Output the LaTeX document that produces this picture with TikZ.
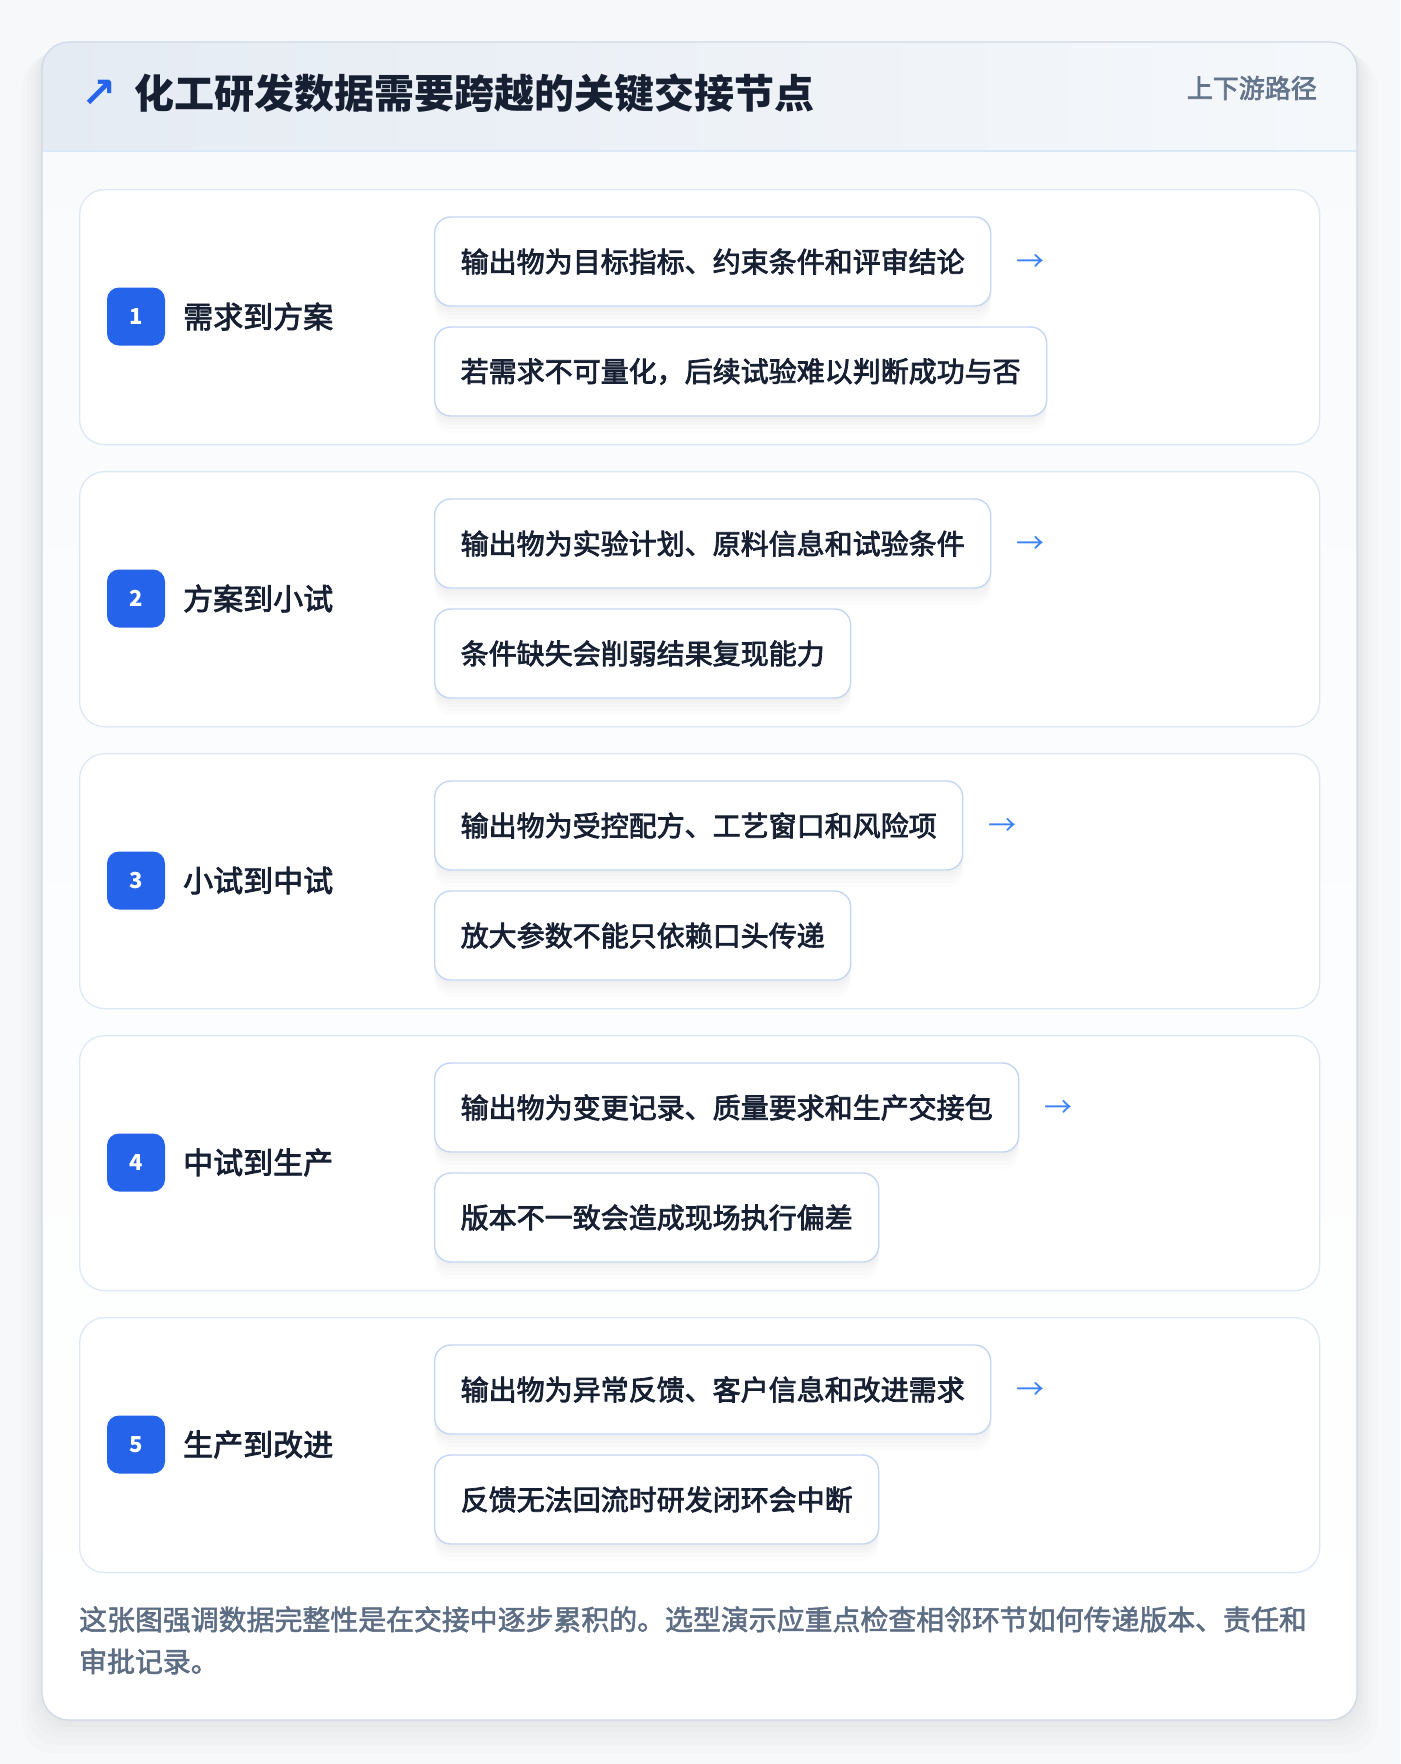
\documentclass[tikz,border=0pt]{standalone}
\usepackage{fontspec}
\setmainfont{Noto Sans CJK SC}
\newfontfamily\cjkmed[FakeBold=2.6]{Noto Sans CJK SC}
\newfontfamily\cjkfoot[FakeBold=2.0]{Noto Sans CJK SC}
\newfontfamily\symf{DejaVu Sans}
\usetikzlibrary{shadows,calc}
\definecolor{pagebg}{HTML}{F7F8FA}
\definecolor{cardfill}{HTML}{F8FAFC}
\definecolor{cardborder}{HTML}{CFD9E6}
\definecolor{hdrL}{HTML}{E5EBF3}
\definecolor{hdrR}{HTML}{F5F8FB}
\definecolor{hdrline}{HTML}{DBE8F8}
\definecolor{rowborder}{HTML}{DDE8F6}
\definecolor{boxborder}{HTML}{C3D7F3}
\definecolor{badgeblue}{HTML}{2563EB}
\definecolor{arrowblue}{HTML}{3B82F6}
\definecolor{maintext}{HTML}{172033}
\definecolor{subtext}{HTML}{64748B}
\definecolor{foottext}{HTML}{5D6D84}
\tikzset{
  rowcard/.style={draw=rowborder, line width=1.3pt, fill=white, rounded corners=25pt,
    minimum width=1240pt, minimum height=255pt, anchor=north west, inner sep=0pt},
  badge/.style={fill=badgeblue, rounded corners=12pt, minimum width=58pt, minimum height=58pt,
    inner sep=0pt, text=white, font=\fontsize{22}{26}\selectfont\bfseries},
  steplabel/.style={anchor=west, inner sep=0pt, text=maintext, font=\fontsize{30}{34}\selectfont\cjkmed},
  softshadow/.style={
    general shadow={fill=black, opacity=0.012, shadow yshift=-3pt},
    general shadow={fill=black, opacity=0.012, shadow yshift=-6pt},
    general shadow={fill=black, opacity=0.012, shadow yshift=-9pt},
    general shadow={fill=black, opacity=0.012, shadow yshift=-13pt},
    general shadow={fill=black, opacity=0.010, shadow yshift=-17pt}},
  infobox/.style={draw=boxborder, line width=1.4pt, fill=white, rounded corners=16pt,
    minimum height=89pt, inner xsep=26pt, inner ysep=0pt, anchor=west, text=maintext,
    font=\fontsize{28}{32}\selectfont\cjkmed, softshadow},
  flowarrow/.style={anchor=west, inner sep=0pt, text=arrowblue, font=\fontsize{28}{32}\selectfont},
}
\begin{document}
\begin{tikzpicture}[x=1pt,y=-1pt]
\useasboundingbox (0,0) rectangle (1400,1764);
\fill[pagebg] (0,0) rectangle (1400,1764);
% soft shadow of the outer card
\foreach \d in {3,7,12,18,25,33}{
  \fill[black, opacity=0.010, rounded corners=30pt] (42-\d*0.6,42+\d*0.4) rectangle (1357+\d*0.6,1720+\d);
}
% outer card
\shade[top color=cardfill, bottom color=white, rounded corners=27pt] (42,42) rectangle (1357,1720);
\begin{scope}
  \clip[rounded corners=27pt] (42,42) rectangle (1357,1720);
  \shade[left color=hdrL, right color=hdrR] (42,42) rectangle (1357,151);
\end{scope}
\draw[hdrline, line width=1.5pt] (42.6,151) -- (1356.4,151);
\draw[cardborder, line width=1.2pt, rounded corners=27pt] (42,42) rectangle (1357,1720);
% header
\node[anchor=center, inner sep=0pt, text=badgeblue, font=\fontsize{42}{46}\selectfont\symf\bfseries] (harrow) at (99,94) {↗};
\node[anchor=west, inner sep=0pt, text=maintext, font=\fontsize{40}{44}\selectfont\bfseries] (title) at (134,93) {化工研发数据需要跨越的关键交接节点};
\node[anchor=east, inner sep=0pt, text=subtext, font=\fontsize{26}{30}\selectfont\cjkmed] (tag) at (1317,88) {上下游路径};
% rows
\foreach \i/\lab/\a/\b in {
  1/需求到方案/输出物为目标指标、约束条件和评审结论/若需求不可量化，后续试验难以判断成功与否,
  2/方案到小试/输出物为实验计划、原料信息和试验条件/条件缺失会削弱结果复现能力,
  3/小试到中试/输出物为受控配方、工艺窗口和风险项/放大参数不能只依赖口头传递,
  4/中试到生产/输出物为变更记录、质量要求和生产交接包/版本不一致会造成现场执行偏差,
  5/生产到改进/输出物为异常反馈、客户信息和改进需求/反馈无法回流时研发闭环会中断}{
  \pgfmathsetmacro{\top}{189+282*(\i-1)}
  \node[rowcard] (row\i) at (79,\top) {};
  \node[badge] (badge\i) at (136,\top+127.5) {\i};
  \node[steplabel] (label\i) at (183,\top+127.5) {\lab};
  \node[infobox] (out\i) at (434,\top+72.5) {\a};
  \node[infobox] (risk\i) at (434,\top+182.5) {\b};
  \node[flowarrow] (arr\i) at ($(out\i.east)+(25,1)$) {→};
}
% footer
\node[anchor=base west, inner sep=0pt, text=foottext, font=\fontsize{27.9}{32}\selectfont\cjkfoot] (foot1) at (79,1630) {这张图强调数据完整性是在交接中逐步累积的。选型演示应重点检查相邻环节如何传递版本、责任和};
\node[anchor=base west, inner sep=0pt, text=foottext, font=\fontsize{27.9}{32}\selectfont\cjkfoot] (foot2) at (79,1672) {审批记录。};
\end{tikzpicture}
\end{document}
